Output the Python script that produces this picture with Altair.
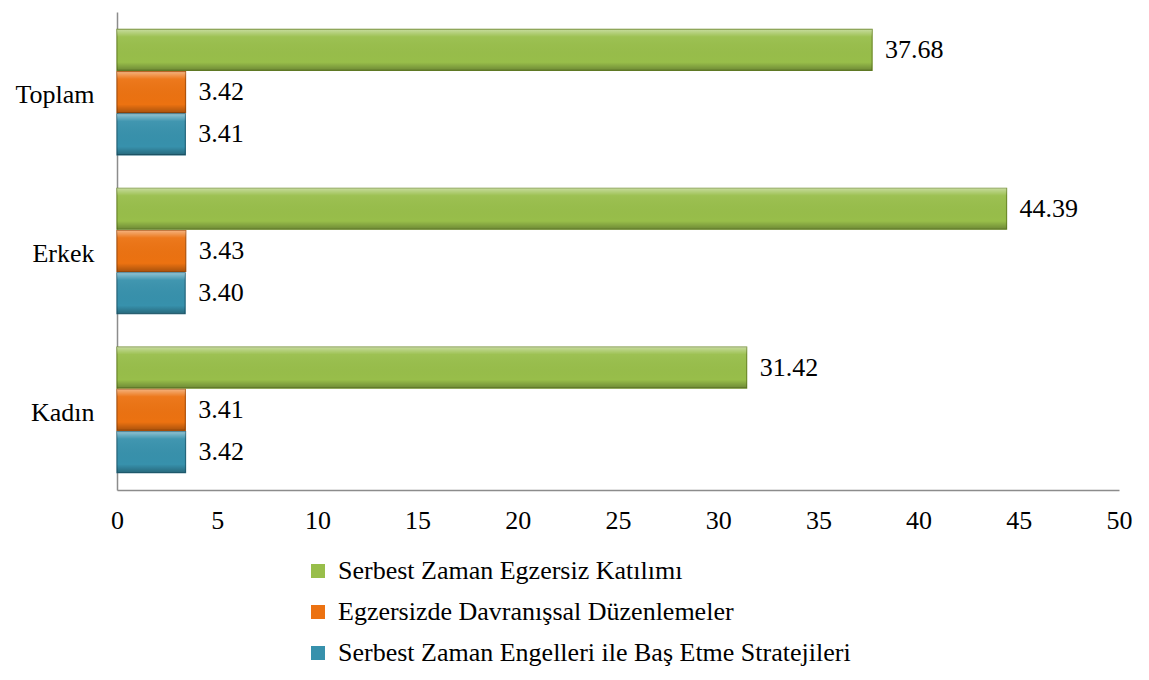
import altair as alt
import pandas as pd

categories = ["Toplam", "Erkek", "Kadın"]
series = [
    "Serbest Zaman Egzersiz Katılımı",
    "Egzersizde Davranışsal Düzenlemeler",
    "Serbest Zaman Engelleri ile Baş Etme Stratejileri",
]
participation = [37.68, 44.39, 31.42]
behavioral = [3.42, 3.43, 3.41]
coping = [3.41, 3.40, 3.42]

fills = ["#98BE4A", "#EC7211", "#3791AC"]
strokes = ["#6E8C2A", "#B0520A", "#23667C"]

rows = []
for i, c in enumerate(categories):
    for s, vals in zip(series, [participation, behavioral, coping]):
        rows.append({"cat": c, "series": s, "value": vals[i]})
df = pd.DataFrame(rows)

FONT = "Liberation Serif"
FS = 26

y_enc = alt.Y("cat:N", sort=categories, title=None,
              scale=alt.Scale(paddingInner=0.21, paddingOuter=0.11),
              axis=alt.Axis(ticks=False, labelPadding=23, labelFontSize=FS,
                            labelFont=FONT, labelColor="#000000", labelOffset=3,
                            domainColor="#8C8C8C", domainWidth=1.5))
yoff = alt.YOffset("series:N", sort=series, scale=alt.Scale(paddingInner=0.03))
x_enc = alt.X("value:Q", title=None,
              scale=alt.Scale(domain=[0, 50], nice=False),
              axis=alt.Axis(values=list(range(0, 55, 5)), ticks=False, grid=False,
                            labelFlush=False,
                            labelPadding=17, labelFontSize=FS, labelFont=FONT,
                            labelColor="#000000", domainColor="#8C8C8C",
                            domainWidth=1.5))

bars = alt.Chart(df).mark_bar(strokeWidth=1.2).encode(
    x=x_enc,
    y=y_enc,
    yOffset=yoff,
    color=alt.Color("series:N", sort=series,
                    scale=alt.Scale(domain=series, range=fills),
                    legend=alt.Legend(title=None, orient="none", direction="vertical",
                                      legendX=188, legendY=546,
                                      labelFont=FONT, labelFontSize=FS,
                                      labelColor="#000000", symbolType="square",
                                      symbolSize=196, symbolStrokeWidth=0,
                                      labelOffset=7, rowPadding=15, labelLimit=0)),
    stroke=alt.Stroke("series:N", sort=series,
                      scale=alt.Scale(domain=series, range=strokes), legend=None),
)

bevel = alt.Gradient(
    gradient="linear", x1=0, y1=0, x2=0, y2=1,
    stops=[
        alt.GradientStop(offset=0, color="rgba(255,255,255,0.45)"),
        alt.GradientStop(offset=0.18, color="rgba(255,255,255,0.05)"),
        alt.GradientStop(offset=0.8, color="rgba(0,0,0,0.0)"),
        alt.GradientStop(offset=1, color="rgba(0,0,0,0.28)"),
    ],
)

shade = alt.Chart(df).mark_bar(color=bevel, strokeWidth=0).encode(
    x="value:Q",
    y=alt.Y("cat:N", sort=categories),
    yOffset=alt.YOffset("series:N", sort=series),
)

labels = alt.Chart(df).mark_text(align="left", baseline="middle", dx=13,
                                 font=FONT, fontSize=FS, color="#000000").encode(
    x="value:Q",
    y=alt.Y("cat:N", sort=categories),
    yOffset=alt.YOffset("series:N", sort=series),
    text=alt.Text("value:Q", format=".2f"),
)

chart = alt.layer(bars, shade, labels).properties(
    width=1002, height=478,
    autosize=alt.AutoSizeParams(type="none"),
    padding={"left": 109, "top": 4, "right": 18, "bottom": 178},
).configure(background="#FFFFFF").configure_view(stroke=None)

chart.save("out.html", embed_options={"renderer": "svg", "actions": False})
